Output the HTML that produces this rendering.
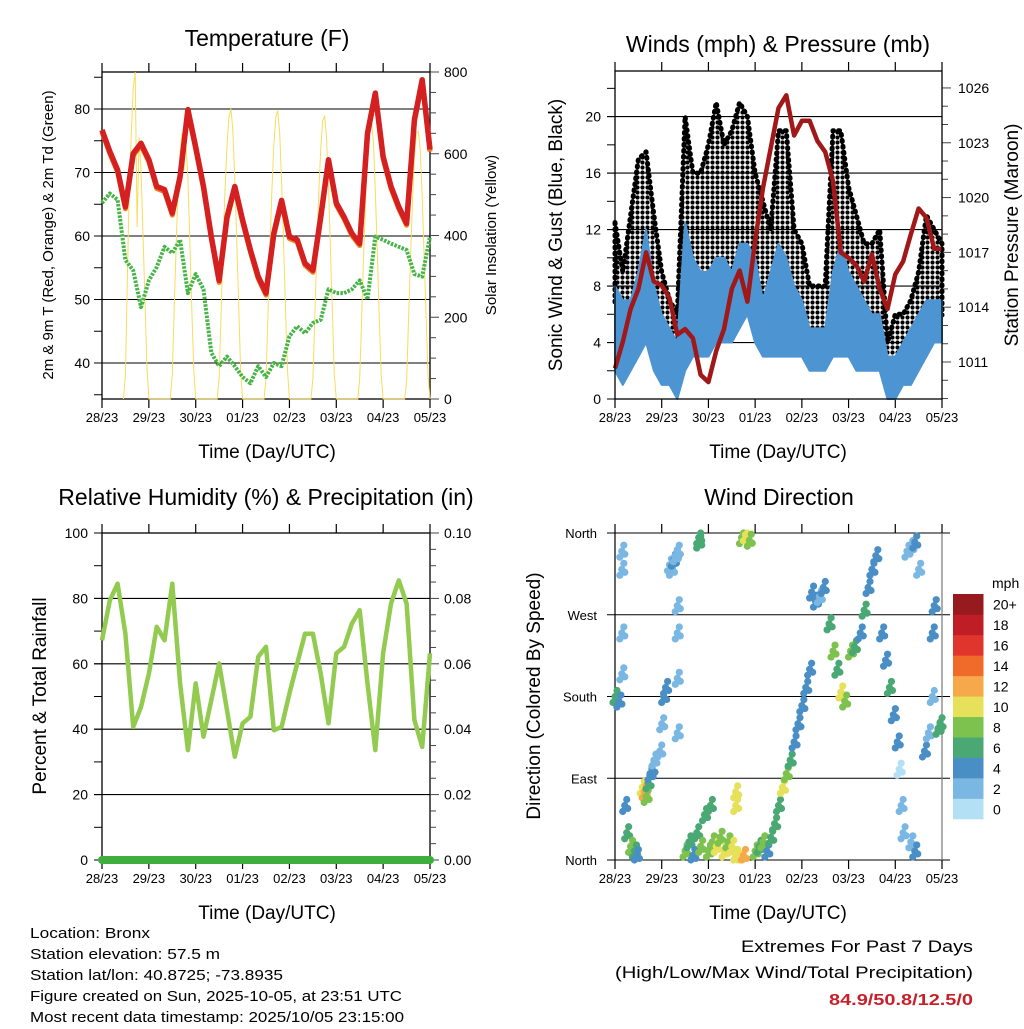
<!DOCTYPE html>
<html><head><meta charset="utf-8"><style>
html,body{margin:0;padding:0;background:#fff;}
svg text{font-family:"Liberation Sans",sans-serif;fill:#000;}
</style></head><body>
<svg id="s" width="1024" height="1024" viewBox="0 0 1024 1024" xmlns="http://www.w3.org/2000/svg">
<defs><pattern id="dotpat" width="5" height="5" patternUnits="userSpaceOnUse"><circle cx="2.5" cy="2.5" r="2.1" fill="#000"/></pattern></defs>
</svg>
<script>
// ---- DATA (4-hourly, t = hours from 28/23 UTC) ----
var dayLabels=["28/23","29/23","30/23","01/23","02/23","03/23","04/23","05/23"];
var temp=[76.7,73.3,70.4,64.6,73,74.6,72,67.8,67.3,63.6,69.4,79.9,74,67.8,59.9,53,63,67.8,62.5,57.8,53.6,51,60.4,65.6,59.9,59.4,55.7,54.6,63,72,65.2,63,60.4,58.8,76.2,82.5,72.5,67.8,64.6,62,78.3,84.6,73.6];
var dewp=[65.2,66.7,65.7,56.2,54.6,48.8,53,55.1,58.3,57.3,59.4,51,54,51.6,41.6,39.5,41,39.5,37.8,36.8,39.5,37.8,40,39.5,44.2,45.8,44.7,46.3,46.8,51.6,51,51,51.6,53,50,59.9,59.4,58.8,58.3,57.8,54,53.6,59.9];
// solar: hourly values per day from hour 11 to 24 after each day start
var solarDays=[
[0,60,300,520,650,760,800,420,640,560,400,240,80,0],
[0,60,220,380,520,600,650,560,620,540,380,220,70,0],
[0,50,210,370,510,620,690,710,660,540,390,230,70,0],
[0,50,210,370,510,620,690,705,650,530,380,220,70,0],
[0,50,200,360,500,610,680,693,640,520,370,210,60,0],
[0,50,200,350,490,600,670,680,630,510,360,200,60,0],
[0,40,190,340,480,590,650,655,610,500,350,200,60,0]];
var press=[1010.65,1012.1,1013.9,1015,1017,1015.4,1015.2,1014.5,1012.5,1012.8,1012.3,1010.3,1009.9,1011.6,1012.8,1015,1016,1014.3,1017.6,1020.5,1022.7,1024.9,1025.6,1023.4,1024.2,1024.2,1023.1,1022.5,1020.9,1017,1016.7,1016.3,1015.4,1016.9,1015,1013.9,1015.8,1016.5,1018,1019.4,1018.9,1017.2,1017.2];
var windLow=[2,1,2,3,4,2,1,1,0,2,3,3,3,4,4,4,5,6,4,3,3,3,3,3,3,2,2,2,3,3,3,2,2,2,2,0,0,1,1,2,3,4,4];
var windHigh=[8,7,7,9,12,8,6,5,4,12.5,10,9,9,10,10,9,11,11,10,7,9,11,10,8,7,5,5,5,9,11,9,8,7,6,6,3,3,4,5,6,7,7,7];
var gustHigh=[12.5,9,13,17,17.5,13,9,7,6,20,16,16,18,21,18,19,21,20,16,14,12,19,19,12,11,8,8,8,19,19,15,13,11,11,12,4,6,6,7,9,13,12,11];
var rh=[67.2,79.4,84.5,69.2,40.7,46.8,57,71.3,67.2,84.5,54,33.6,54,37.7,48.9,60.1,45.8,31.6,41.8,43.8,62.1,65.2,39.7,40.7,50.9,60.1,69.2,69.2,57,41.8,63.2,65.2,72.3,76.4,54,33.6,63.2,78.4,85.5,78.4,42.8,34.6,63.2];
var precip=[0,0];
var dirT=[0,2,3.5,3.5,3.5,3.5,5,6,8,10,11,14,15,16,17,18,19,20,23,24,25,26,28,29,30,31,32,32,32,32,32,36,38,40,42,44,46,48,49,43,43,50,52,54,56,58,60,62,64,66,62,62,65,67,69,72,74,76,78,80,82,84,86,88,90,92,94,96,98,100,101,103,105,107,110,112,114,116,118,121,123,126,128,130,132,134,137,139,141,143,145,146,147,148,150,152,154,156,152,154,159,161,163,163,164,166,167];
var dirVal=[180,175,340,320,250,205,60,30,15,10,5,80,75,70,85,95,100,110,120,150,180,190,325,320,330,335,340,280,250,200,140,10,20,5,30,15,50,10,60,350,355,20,15,25,10,20,15,5,0,5,60,75,355,358,352,10,15,20,10,25,40,60,80,95,110,130,150,170,190,210,295,285,290,300,260,230,210,185,175,230,235,250,275,300,320,335,250,220,190,160,130,100,60,30,340,345,350,320,20,10,120,140,180,250,280,145,150];
var dirSpd=[6,4,2,2,2,2,4,6,8,6,4,10,12,8,6,4,4,2,2,2,4,4,2,2,4,2,2,2,2,2,2,8,6,4,6,8,6,8,6,6,6,8,10,8,10,8,10,10,10,12,10,10,8,10,8,8,6,8,4,6,6,6,10,8,6,4,4,4,4,4,4,4,2,4,6,8,6,10,8,8,6,4,6,4,4,4,4,4,6,4,4,0,2,2,2,2,4,2,2,4,4,2,2,4,4,6,6];

var S=document.getElementById('s');
var NS='http://www.w3.org/2000/svg';
function el(tag,attrs,parent,txt){var e=document.createElementNS(NS,tag);for(var k in attrs)e.setAttribute(k,attrs[k]);if(txt!==undefined)e.textContent=txt;(parent||S).appendChild(e);return e;}
function txt(x,y,s,size,anchor,parent,extra){var a={x:x,y:y,'font-size':size,'text-anchor':anchor||'middle'};if(extra)for(var k in extra)a[k]=extra[k];return el('text',a,parent,s);}
function tAt(i){return i*4;}
var palette=["#b3e0f5","#7ab8e3","#4a8ec6","#4aa874","#7dc24e","#e6e05a","#f6a84a","#f06a2a","#e0352d","#c01e26","#961a1e"];
var cbLabels=["0","2","4","6","8","10","12","14","16","18","20+"];

function panel(name){
  var g=el('g',{},S);
  
  
  return g;
}
function xAxis(g,L,R,T,B,tx){
  for(var d=0;d<dayLabels.length;d++){
    var x=tx(d*24);
    el('line',{x1:x,y1:T-9,x2:x,y2:T,stroke:'#000','stroke-width':1.2},g);
    el('line',{x1:x,y1:B,x2:x,y2:B+9,stroke:'#000','stroke-width':1.2},g);
    var t=txt(x,B+23,dayLabels[d],13,'middle',g);
    
    
  }
}
function lineFromArr(arr,fx,fy){var p='';for(var i=0;i<arr.length;i++){p+=(i?'L':'M')+fx(tAt(i)).toFixed(1)+','+fy(arr[i]).toFixed(1);}return p;}

// ============ PANEL 1: Temperature ============
(function(){
var L=102,R=430,T=72,B=399;
var g=panel('temperature-panel');
var tx=function(t){return L+(R-L)*t/168;};
var ty=function(v){return 363-(v-40)*6.35;};
var sy=function(v){return B-(B-T)*v/800;};
el('rect',{x:L,y:T,width:R-L,height:B-T,fill:'none',stroke:'#000','stroke-width':1.3},g);
for(var v=35;v<=85;v+=5){var y=ty(v);
  el('line',{x1:L-8,y1:y,x2:L,y2:y,stroke:'#000','stroke-width':1},g);
  if(v%10==0){el('line',{x1:L-8,y1:y,x2:R,y2:y,stroke:'#000','stroke-width':1.1},g);
    var tl=txt(L-12,y+5,String(v),14,'end',g);}}
for(var s=0;s<=800;s+=50){var y=sy(s);
  el('line',{x1:R,y1:y,x2:R+(s%200==0?9:6),y2:y,stroke:'#444','stroke-width':1},g);
  if(s%200==0){var tl=txt(R+14,y+5,String(s),14,'start',g);}}
xAxis(g,L,R,T,B,tx);
var sp='';
for(var d=0;d<solarDays.length;d++)for(var h=0;h<solarDays[d].length;h++){var t=d*24+11+h;sp+=(sp?'L':'M')+tx(t).toFixed(1)+','+sy(solarDays[d][h]).toFixed(1);}
var sl=el('path',{d:sp,fill:'none',stroke:'#f8dc5c','stroke-width':1},g);

var dl=el('path',{d:lineFromArr(dewp,tx,ty),fill:'none',stroke:'#46b446','stroke-width':4,'stroke-dasharray':'2.5 1.3','stroke-linejoin':'round'},g);

var ol=el('path',{d:lineFromArr(temp,tx,function(v){return ty(v)+2;}),fill:'none',stroke:'#f2801e','stroke-width':5,'stroke-linejoin':'round'},g);

var rl=el('path',{d:lineFromArr(temp,tx,ty),fill:'none',stroke:'#d42020','stroke-width':5.5,'stroke-linejoin':'round'},g);

var t1=txt(267,46,'Temperature (F)',23,'middle',g);
var t2=txt(267,458,'Time (Day/UTC)',19,'middle',g);
var t3=txt(0,0,'2m & 9m T (Red, Orange) & 2m Td (Green)',15,'middle',g,{transform:'translate(53,235) rotate(-90)'});
var t4=txt(0,0,'Solar Insolation (Yellow)',15,'middle',g,{transform:'translate(496,235) rotate(-90)'});
})();

// ============ PANEL 2: Winds & Pressure ============
(function(){
var L=615,R=942,T=71,B=399;
var g=panel('winds-panel');
var tx=function(t){return L+(R-L)*t/168;};
var wy=function(v){return B-v*14.12;};
var py=function(p){return 362-(p-1011)*18.27;};
for(var v=0;v<=22;v+=2){var y=wy(v);
  el('line',{x1:L-8,y1:y,x2:L,y2:y,stroke:'#000','stroke-width':1},g);
  if(v%4==0&&v<=20){el('line',{x1:L-8,y1:y,x2:R,y2:y,stroke:'#000','stroke-width':1.1},g);
  var tl=txt(L-14,y+5,String(v),14,'end',g);}}
for(var p=1009;p<=1027;p++){var y=py(p);if(y<T||y>B)continue;
  el('line',{x1:R,y1:y,x2:R+((p-1011)%3==0?9:6),y2:y,stroke:'#444','stroke-width':1},g);
  if((p-1011)%3==0){var tl=txt(R+16,y+5,String(p),14,'start',g);}}
xAxis(g,L,R,T,B,tx);
var top='',bot='';
for(var i=0;i<gustHigh.length;i++){top+=(i?'L':'M')+tx(tAt(i)).toFixed(1)+','+wy(gustHigh[i]).toFixed(1);}
for(var i=gustHigh.length-1;i>=0;i--){bot+='L'+tx(tAt(i)).toFixed(1)+','+wy(windHigh[i]*0.85).toFixed(1);}
var gb=el('path',{d:top+bot+'Z',fill:'url(#dotpat)',stroke:'#000','stroke-width':5,'stroke-linejoin':'round','stroke-dasharray':'1 5','stroke-linecap':'round'},g);

var wt='',wb='';
for(var i=0;i<windHigh.length;i++){wt+=(i?'L':'M')+tx(tAt(i)).toFixed(1)+','+wy(windHigh[i]).toFixed(1);}
for(var i=windLow.length-1;i>=0;i--){wb+='L'+tx(tAt(i)).toFixed(1)+','+wy(windLow[i]).toFixed(1);}
var wbp=el('path',{d:wt+wb+'Z',fill:'#4d94d2',stroke:'#4d94d2','stroke-width':2,'stroke-linejoin':'round'},g);

var pl=el('path',{d:lineFromArr(press,tx,py),fill:'none',stroke:'#a01818','stroke-width':4.5,'stroke-linejoin':'round'},g);

el('rect',{x:L,y:T,width:R-L,height:B-T,fill:'none',stroke:'#000','stroke-width':1.3},g);
var t1=txt(778,52,'Winds (mph) & Pressure (mb)',23,'middle',g);
var t2=txt(778,458,'Time (Day/UTC)',19,'middle',g);
var t3=txt(0,0,'Sonic Wind & Gust (Blue, Black)',19,'middle',g,{transform:'translate(562,235) rotate(-90)'});
var t4=txt(0,0,'Station Pressure (Maroon)',19,'middle',g,{transform:'translate(1018,235) rotate(-90)'});
})();

// ============ PANEL 3: RH & Precip ============
(function(){
var L=102,R=430,T=533,B=860;
var g=panel('humidity-panel');
var tx=function(t){return L+(R-L)*t/168;};
var ry=function(v){return B-(B-T)*v/100;};
var qy=function(v){return B-(B-T)*v/0.1;};
el('rect',{x:L,y:T,width:R-L,height:B-T,fill:'none',stroke:'#000','stroke-width':1.3},g);
for(var v=0;v<=100;v+=10){var y=ry(v);
  el('line',{x1:L-8,y1:y,x2:L,y2:y,stroke:'#000','stroke-width':1},g);
  if(v%20==0){el('line',{x1:L-8,y1:y,x2:R,y2:y,stroke:'#000','stroke-width':1.1},g);
  var tl=txt(L-14,y+5,String(v),14,'end',g);}}
for(var k=0;k<=20;k++){var v=k*0.005;var y=qy(v);
  el('line',{x1:R,y1:y,x2:R+(k%4==0?9:6),y2:y,stroke:'#444','stroke-width':1},g);
  if(k%4==0){var tl=txt(R+14,y+5,v.toFixed(2),14,'start',g);}}
xAxis(g,L,R,T,B,tx);
var pr=el('line',{x1:tx(0),y1:qy(precip[0]),x2:tx(168),y2:qy(precip[1]),stroke:'#3fae3f','stroke-width':8,'stroke-linecap':'round'},g);

var rl=el('path',{d:lineFromArr(rh,tx,ry),fill:'none',stroke:'#92cb50','stroke-width':4.5,'stroke-linejoin':'round'},g);

var t1=txt(266,505,'Relative Humidity (%) & Precipitation (in)',23,'middle',g);
var t2=txt(267,919,'Time (Day/UTC)',19,'middle',g);
var t3=txt(0,0,'Percent & Total Rainfall',19,'middle',g,{transform:'translate(46,696) rotate(-90)'});
})();

// ============ PANEL 4: Wind Direction ============
(function(){
var L=615,R=942,T=533,B=860;
var g=panel('wind-direction-panel');
var tx=function(t){return L+(R-L)*t/168;};
var dy=function(d){return B-(B-T)*d/360;};
var names=["North","East","South","West","North"];
for(var k=0;k<5;k++){var y=dy(k*90);
  el('line',{x1:L-8,y1:y,x2:R+8,y2:y,stroke:'#000','stroke-width':1.1},g);
  var tl=txt(L-18,y+5,names[k],13,'end',g);}
el('line',{x1:L,y1:T,x2:L,y2:B,stroke:'#000','stroke-width':1.2},g);
el('line',{x1:R,y1:T,x2:R,y2:B,stroke:'#777','stroke-width':1.2},g);
xAxis(g,L,R,T,B,tx);
var offs=[[0,0],[2,-6],[-2,6],[3,3]];
for(var i=0;i<dirT.length;i++){
  var c=palette[Math.min(10,Math.floor(dirSpd[i]/2))];
  for(var o=0;o<offs.length;o++){
    var cy=dy(dirVal[i])+offs[o][1];cy=Math.max(T,Math.min(B,cy));
    var pt=el('circle',{cx:tx(dirT[i])+offs[o][0],cy:cy,r:3.6,fill:c},g);
    
    
  }
}
var cb=el('g',{},g);


var cbT=594,cbB=819,h=(cbB-cbT)/11;
for(var k=0;k<11;k++){
  var y=cbB-(k+1)*h;
  el('rect',{x:953,y:y,width:30.5,height:h+0.3,fill:palette[k]},cb);
  var tl=txt(993,y+h/2+5.5,cbLabels[k],14,'start',cb);
}
var mp=txt(992,588,'mph',14,'start',cb);
var t1=txt(779,505,'Wind Direction',23,'middle',g);
var t2=txt(778,919,'Time (Day/UTC)',19,'middle',g);
var t3=txt(0,0,'Direction (Colored By Speed)',19,'middle',g,{transform:'translate(540,696) rotate(-90)'});
})();

// ============ Footer text ============
var info=["Location: Bronx","Station elevation: 57.5 m","Station lat/lon: 40.8725; -73.8935","Figure created on Sun, 2025-10-05, at 23:51 UTC","Most recent data timestamp: 2025/10/05 23:15:00"];
var infoW=[120,190,253,372,374];
for(var i=0;i<info.length;i++){
  var t=txt(30,938+i*21,info[i],15,'start',S,{textLength:infoW[i],lengthAdjust:'spacingAndGlyphs'});
  
  
}
var e1=txt(973,952,'Extremes For Past 7 Days',17,'end',S,{textLength:232,lengthAdjust:'spacingAndGlyphs'});

var e2=txt(973,978,'(High/Low/Max Wind/Total Precipitation)',17,'end',S,{textLength:358,lengthAdjust:'spacingAndGlyphs'});

var e3=txt(973,1005,'84.9/50.8/12.5/0',16,'end',S,{'font-weight':'bold',fill:'#c8202a',style:'fill:#c8202a',textLength:144,lengthAdjust:'spacingAndGlyphs'});

</script>
</body></html>
